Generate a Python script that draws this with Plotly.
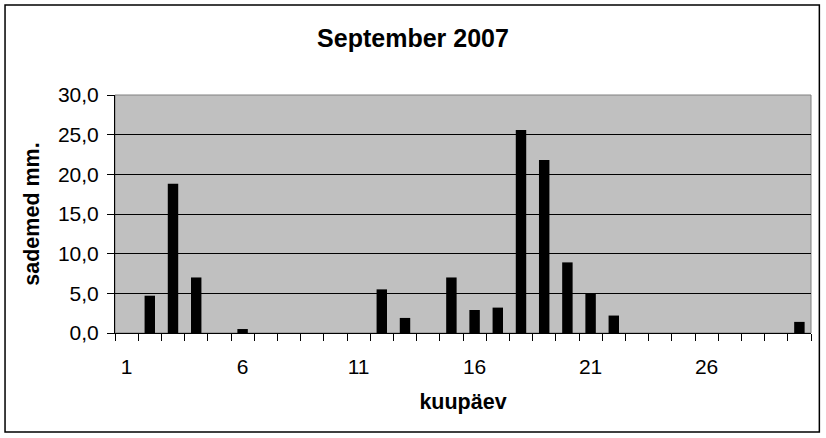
import plotly.graph_objects as go

# daily precipitation, September 2007
days = list(range(1, 31))
rain_mm = [0, 4.7, 18.8, 7.0, 0, 0.5, 0, 0, 0, 0,
           0, 5.5, 1.9, 0, 7.0, 2.9, 3.2, 25.6, 21.8, 8.9,
           5.0, 2.2, 0, 0, 0, 0, 0, 0, 0, 1.4]
day_labels = [1, 6, 11, 16, 21, 26]
y_ticks = [0, 5, 10, 15, 20, 25, 30]

font = "Arial, Liberation Sans, sans-serif"

fig = go.Figure(go.Bar(x=days, y=rain_mm, marker=dict(color="black", line=dict(width=0))))

fig.update_layout(
    width=826, height=438,
    margin=dict(l=115, r=15, t=95, b=105),
    paper_bgcolor="white",
    plot_bgcolor="#C0C0C0",
    bargap=0.55,
    separators=", ",
    showlegend=False,
    font=dict(family=font, size=21, color="black"),
    title=dict(text="<b>September 2007</b>", font=dict(size=25),
               x=0.5, xanchor="center", xref="container",
               y=1 - 38 / 438, yanchor="middle", yref="container"),
)

fig.update_xaxes(
    range=[0.5, 30.5],
    tickvals=day_labels,
    ticks="",
    ticklabelstandoff=15,
    showgrid=False,
    showline=True, linecolor="black", linewidth=1,
    minor=dict(ticks="outside", tick0=0.5, dtick=1, ticklen=7,
               tickcolor="black", showgrid=False),
    title=dict(text="<b>kuupäev</b>", font=dict(size=21.5), standoff=16),
    zeroline=False,
)

fig.update_yaxes(
    range=[0, 30],
    tickvals=y_ticks,
    tickformat=".1f",
    ticks="outside", ticklen=7, tickcolor="black",
    ticklabelstandoff=4,
    showgrid=True, gridcolor="black", gridwidth=1,
    showline=True, linecolor="black", linewidth=1,
    zeroline=False,
    title=dict(text="<b>sademed mm.</b>", font=dict(size=21.5), standoff=12),
)

# plot-area border and outer chart frame
fig.add_shape(type="rect", xref="paper", yref="paper", x0=0, x1=1, y0=0, y1=1,
              line=dict(color="#808080", width=1), layer="below")
fig.add_shape(type="rect", xref="paper", yref="paper",
              x0=-0.158, x1=1.012, y0=-0.416, y1=1.378,
              line=dict(color="black", width=1.5))

# drop the default page margin so the chart sits at the window's corner
fig.write_html("out.html", config={"displayModeBar": False},
               post_script="document.body.style.margin='0px';")
